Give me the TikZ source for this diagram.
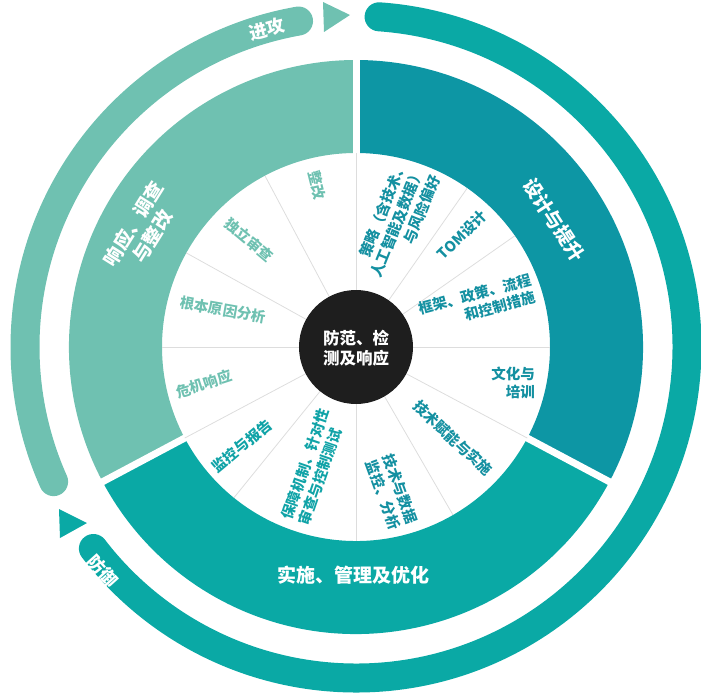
\documentclass[tikz,border=0pt]{standalone}
\usepackage{fontspec}
\setmainfont{Noto Sans CJK SC}
\usepackage{xcolor}
\definecolor{cLight}{HTML}{6FC1B1}
\definecolor{cDeep}{HTML}{0D96A4}
\definecolor{cTeal}{HTML}{0AA9A5}
\definecolor{cDeepTxt}{HTML}{1490A1}
\definecolor{cTealTxt}{HTML}{10A3A7}
\definecolor{cCore}{HTML}{1E1E1E}
\definecolor{cSpoke}{HTML}{DDDDDD}
\usepackage{tikz}
\tikzset{
  lbl-sector/.style={font=\bfseries\fontsize{14.5}{18}\selectfont,inner sep=0pt,align=center},
  lbl-band/.style={font=\bfseries\fontsize{19}{23}\selectfont,text=white,inner sep=0pt,align=center},
  lbl-ring/.style={font=\bfseries\fontsize{18}{20}\selectfont,text=white,inner sep=0pt},
  lbl-core/.style={font=\bfseries\fontsize{16.5}{20}\selectfont,text=white,inner sep=0pt,align=center},
  spoke/.style={draw=cSpoke,line width=0.8pt},
  band-gap/.style={draw=white,line width=7pt},
  ring-arc/.style={line width=29pt,line cap=round},
}
\begin{document}
\begin{tikzpicture}[x=1pt,y=1pt]
  \useasboundingbox (-356,-352) rectangle (345,347);
  % 外环：进攻 / 防御
  \draw[ring-arc,draw=cLight] (204:331) arc[start angle=204,end angle=100,radius=331];
  \draw[ring-arc,draw=cTeal] (86:331) arc[start angle=86,end angle=-142.5,radius=331];
  \fill[cLight] (-33,345) -- (-6,332) -- (-32,315) -- cycle;
  \fill[cTeal] (-297,-162) -- (-269,-176) -- (-296,-191) -- cycle;
  % 中环三段
  \fill[cDeep] (90:194) arc[start angle=90,end angle=-28,radius=194]
    -- (-28:287) arc[start angle=-28,end angle=90,radius=287] -- cycle;
  \fill[cLight] (90:194) arc[start angle=90,end angle=208,radius=194]
    -- (208:287) arc[start angle=208,end angle=90,radius=287] -- cycle;
  \fill[cTeal] (208:194) arc[start angle=208,end angle=332,radius=194]
    -- (332:287) arc[start angle=332,end angle=208,radius=287] -- cycle;
  \foreach \a in {90,208,332} \draw[band-gap] (\a:190) -- (\a:292);
  \foreach \a in {0,35,55,90,118,151,180,208,231,270,300,332} \draw[spoke] (\a:55) -- (\a:194);
  \fill[cCore] (0,0) circle[radius=57];
  \node[lbl-core] (core) at (0,-1) {防范、检\\测及响应};
  % 内圈各扇区
  \node[lbl-sector,text=cDeepTxt,align=right,rotate=15] (frame) at (121,44) {框架、政策、流程\\和控制措施};
  \node[lbl-sector,text=cDeepTxt,rotate=45] (tom) at (106,112) {TOM设计};
  \node[lbl-sector,text=cDeepTxt,align=right,rotate=68] (strat) at (41,124) {策略（含技术、\\人工智能及数据）\\与风险偏好};
  \node[lbl-sector,text=cLight,rotate=-76] (fix) at (-39,162) {整改};
  \node[lbl-sector,text=cLight,rotate=-40] (audit) at (-107,107) {独立审查};
  \node[lbl-sector,text=cLight,rotate=-10] (root) at (-133,37) {根本原因分析};
  \node[lbl-sector,text=cLight,rotate=18] (crisis) at (-152,-37) {危机响应};
  \node[lbl-sector,text=cTealTxt,rotate=40] (monitor) at (-114,-99) {监控与报告};
  \node[lbl-sector,text=cTealTxt,align=left,rotate=71] (assure) at (-42,-120) {保障机制、针对性\\审查与控制测试};
  \node[lbl-sector,text=cDeepTxt,align=left,rotate=-70] (data) at (36,-145) {技术与数据\\监控、分析};
  \node[lbl-sector,text=cDeepTxt,rotate=-43] (enable) at (97,-91) {技术赋能与实施};
  \node[lbl-sector,text=cDeepTxt,align=right] (culture) at (157,-36) {文化与\\培训};
  % 中环与外环标题
  \node[lbl-band,rotate=58] (respond) at (-213,117) {响应、调查\\与整改};
  \node[lbl-band,rotate=-57] (design) at (198,127) {设计与提升};
  \node[lbl-band] (implement) at (-2,-228) {实施、管理及优化};
  \node[lbl-ring,rotate=15] (attack) at (-89,318) {进攻};
  \node[lbl-ring,rotate=-48] (defend) at (-253,-224) {防御};
\end{tikzpicture}
\end{document}
